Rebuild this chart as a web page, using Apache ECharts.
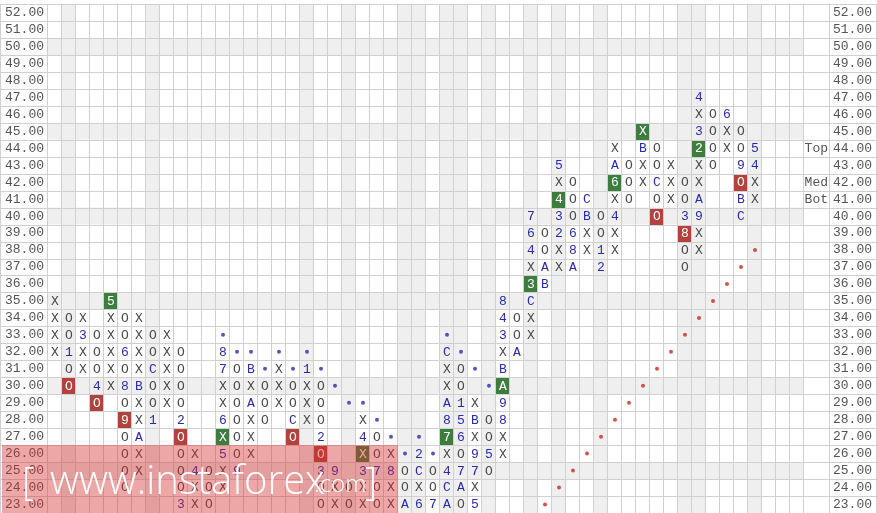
<!DOCTYPE html>
<html><head><meta charset="utf-8">
<script src="https://cdn.jsdelivr.net/npm/echarts@6/dist/echarts.min.js"></script>
<style>html,body{margin:0;padding:0;background:#fff;}#c{width:877px;height:513px;}</style>
</head><body><div id="c"></div>
<script>
// ---- data ----
const priceLabels = ['23.00','24.00','25.00','26.00','27.00','28.00','29.00','30.00','31.00','32.00','33.00','34.00','35.00','36.00','37.00','38.00','39.00','40.00','41.00','42.00','43.00','44.00','45.00','46.00','47.00','48.00','49.00','50.00','51.00','52.00'];
const basePrice = 23;
const columnCount = 54;
// bottom price of each P&F column and its boxes from bottom to top
const colBottom = [32,30,31,29,30,24,25,28,29,23, 23,23,24,25,26,28,29,27,28,23, 23,23,23,23,23,23,23,23,23,23, 23,25,26,32,33,36,37,37,38,37, 38,41,42,40,41,37,38,43,44,40, 41];
const colMarks = ["XXXX","OO1OO","XX3X","O4OOO","XXXXX5","OOOO9O8O6OO","XXAXXBXXXX","1OOCOO","XXXXX","3OOOO2OOOO",
"XX4X","OOO","XX5X6XX78","9OOOOOO","XXXAXB","OOO","XXX","OCOO","XXX1","OO3O2OOO",
"XX9","OO","XX3X4X","OO7OO","XX8X","AOO","6XC2","7OO","AC4X78AXXC","OA7O651OO",
"5X79XBX","O5OO","XX89ABX348","AOO","XXC3X467","BAOO","XX234X5","A86OOO","XXBC","21OO",
"XX4X6AX","OOO","XXBX","OOCOO","XXX","OO83OO","XX9AXX23X4","OOOO","XX6","CBO9OO",
"XX45"];
const greenBoxes = [[4,35],[12,27],[22,26],[28,27],[32,30],[34,36],[36,41],[40,42],[42,45],[46,44]];
const redBoxes = [[1,30],[3,29],[5,28],[9,27],[17,27],[19,26],[43,40],[45,39],[49,42]];
const blueDots = [[12,33],[13,32],[14,32],[15,31],[16,32],[17,31],[18,32],[19,31],[20,30],[21,29],[22,29],[23,28],[24,27],[25,26],[26,27],[27,26],[28,33],[29,32],[30,31],[31,30]];
const redDots = [[35,23],[36,24],[37,25],[38,26],[39,27],[40,28],[41,29],[42,30],[43,31],[44,32],[45,33],[46,34],[47,35],[48,36],[49,37],[50,38]];
const shadedCols = [1,7,18,21,25,26,28,29,31,34,36,39,45,46,50];
const shadedRows = [25,30,35,40,45,50];
const sideNotes = [['Top',44],['Med',42],['Bot',41]];

// ---- build tables ----
const colCats = []; for (let i = 0; i < columnCount; i++) colCats.push(String(i));
const key = (c,p) => c + '_' + p;
const boxMap = {};
greenBoxes.forEach(b => boxMap[key(b[0],b[1])] = 'G');
redBoxes.forEach(b => boxMap[key(b[0],b[1])] = 'R');
const cells = [];
colMarks.forEach((s, c) => {
  for (let k = 0; k < s.length; k++) {
    const p = colBottom[c] + k;
    cells.push([c, p - basePrice, s[k], boxMap[key(c,p)] || '']);
  }
});
const toIdx = arr => arr.map(d => [d[0], d[1] - basePrice]);

const MONO = '"Liberation Mono","Courier New",monospace';
const LINE = '#d0d0d0';
const SHADE = '#efefef';

const chart = echarts.init(document.getElementById('c'), null, {renderer:'canvas'});

function bgItem(params, api) {
  const cs = params.coordSys;
  const sz = api.size([1,1]);
  const d = bgData[params.dataIndex];
  if (d[0] === 'col') {
    const p = api.coord([d[1], 0]);
    return {type:'rect', shape:{x:p[0]-sz[0]/2, y:cs.y, width:sz[0], height:cs.height}, style:{fill:SHADE}};
  } else {
    const p = api.coord([0, d[1]]);
    return {type:'rect', shape:{x:cs.x, y:p[1]-sz[1]/2, width:cs.width, height:sz[1]}, style:{fill:SHADE}};
  }
}
const bgData = shadedCols.map(c => ['col', c]).concat(shadedRows.map(r => ['row', r - basePrice]));

function lineItem(params, api) {
  const cs = params.coordSys;
  const sz = api.size([1,1]);
  const W = api.getWidth();
  const ch = [];
  const n = priceLabels.length;
  for (let r = 0; r <= n; r++) {
    const y = Math.round(cs.y + r * sz[1]) + 0.5;
    ch.push({type:'line', shape:{x1:0, y1:y, x2:W, y2:y}, style:{stroke:LINE, lineWidth:1}});
  }
  for (let c = 0; c <= columnCount; c++) {
    const x = Math.round(cs.x + c * sz[0]) - 0.5;
    ch.push({type:'line', shape:{x1:x, y1:cs.y, x2:x, y2:cs.y+cs.height}, style:{stroke:LINE, lineWidth:1}});
  }
  const extra = [0.5, Math.round(cs.x + cs.width) + 25.5, W - 0.5];
  extra.forEach(x => ch.push({type:'line', shape:{x1:x, y1:cs.y, x2:x, y2:cs.y+cs.height}, style:{stroke:LINE, lineWidth:1}}));
  sideNotes.forEach(s => {
    const p = api.coord([columnCount - 1, s[1] - basePrice]);
    ch.push({type:'text', style:{text:s[0], x: Math.round(cs.x + cs.width) + 24, y:p[1], align:'right', verticalAlign:'middle', font:'13px ' + MONO, fill:'#555'}});
  });
  return {type:'group', children:ch};
}

function cellItem(params, api) {
  const d = cells[params.dataIndex];
  const p = api.coord([d[0], d[1]]);
  const sz = api.size([1,1]);
  const ch = [];
  if (d[3]) {
    ch.push({type:'rect', shape:{x:Math.round(p[0]-sz[0]/2), y:Math.round(p[1]-sz[1]/2)+1, width:Math.round(sz[0])-1, height:Math.round(sz[1])-1},
      style:{fill: d[3] === 'G' ? '#3d7d3d' : '#b3413c'}});
  }
  const isXO = d[2] === 'X' || d[2] === 'O';
  ch.push({type:'text', style:{text:d[2], x:p[0], y:p[1]+0.5, align:'center', verticalAlign:'middle', font:'13px ' + MONO,
    fill: d[3] ? '#ffffff' : (isXO ? '#4a4a4a' : '#2a2ab0')}});
  return {type:'group', children:ch};
}

const option = {
  animation: false,
  backgroundColor: '#ffffff',
  grid: {left: 48, top: 4, width: 756, height: 510, containLabel: false},
  xAxis: {type:'category', data: colCats, boundaryGap: true, show: true,
    axisLine:{show:false}, axisTick:{show:false}, axisLabel:{show:false}, splitLine:{show:false}},
  yAxis: [
    {type:'category', data: priceLabels, position:'left', boundaryGap:true,
      axisLine:{show:false}, axisTick:{show:false}, splitLine:{show:false},
      axisLabel:{interval:0, margin:4, color:'#555', fontFamily:MONO, fontSize:13}},
    {type:'category', data: priceLabels, position:'right', boundaryGap:true,
      axisLine:{show:false}, axisTick:{show:false}, splitLine:{show:false},
      axisLabel:{interval:0, margin:29, color:'#555', fontFamily:MONO, fontSize:13}}
  ],
  series: [
    {type:'custom', name:'shade', z:1, data: bgData.map(d => d[0]==='col' ? [d[1],0] : [0,d[1]]), renderItem: bgItem, silent:true, clip:false},
    {type:'custom', name:'grid', z:2, data: [[0,0]], renderItem: lineItem, silent:true, clip:false},
    {type:'custom', name:'cells', z:3, data: cells.map(c => [c[0], c[1]]), renderItem: cellItem, clip:false},
    {type:'scatter', name:'blue', z:4, data: toIdx(blueDots), symbol:'circle', symbolSize:4, itemStyle:{color:'#2a2ab0'}},
    {type:'scatter', name:'red', z:4, data: toIdx(redDots), symbol:'circle', symbolSize:4, itemStyle:{color:'#c62828'}}
  ],
  graphic: [
    {type:'rect', z:100, shape:{x:2, y:445, width:396, height:70}, style:{fill:'rgba(215,45,45,0.42)'}},
    {type:'text', z:101, x:22, y:503, style:{text:'[', font:'300 38px "Open Sans"', fill:'#ffffff', textVerticalAlign:'bottom'}},
    {type:'text', z:101, x:50, y:503, style:{text:'www.instaforex', font:'300 40px "Open Sans"', fill:'#ffffff', textVerticalAlign:'bottom'}},
    {type:'text', z:101, x:314, y:497, style:{text:'.com', font:'300 24px "Open Sans"', fill:'#ffffff', textVerticalAlign:'bottom'}},
    {type:'text', z:101, x:365, y:503, style:{text:']', font:'300 38px "Open Sans"', fill:'#ffffff', textVerticalAlign:'bottom'}}
  ]
};
chart.setOption(option);
</script></body></html>
